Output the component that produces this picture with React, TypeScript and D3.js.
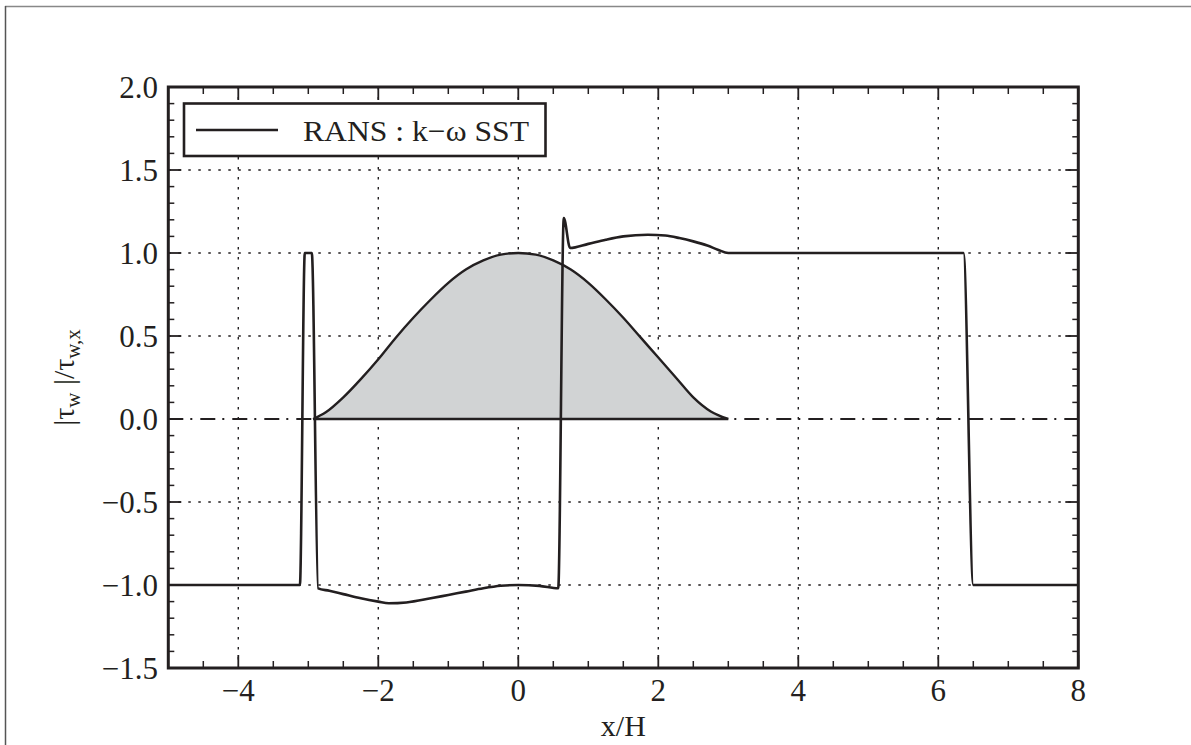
import React from "react";
import * as d3 from "d3";

const xMajor = [-4, -2, 0, 2, 4, 6, 8];
const xGrid = [-4, -2, 0, 2, 4, 6];
const yMajor = [-1.5, -1.0, -0.5, 0.0, 0.5, 1.0, 1.5, 2.0];
const yGrid = [-1.0, -0.5, 0.5, 1.0, 1.5];

const ransX = [-5, -3.12, -3.05, -2.95, -2.86, -2.7, -2.5, -2.25, -2.0, -1.85, -1.6, -1.25, -1.0, -0.75, -0.5, -0.25, 0.0, 0.3, 0.57, 0.65, 0.74, 1.0, 1.25, 1.5, 1.85, 2.1, 2.3, 2.5, 2.7, 2.85, 3.0, 6.36, 6.5, 8];
const ransY = [-1, -1, 1.0, 1.0, -1.02, -1.035, -1.055, -1.08, -1.10, -1.11, -1.105, -1.08, -1.06, -1.04, -1.02, -1.005, -1.0, -1.005, -1.02, 1.21, 1.03, 1.055, 1.08, 1.10, 1.11, 1.105, 1.09, 1.07, 1.045, 1.02, 1.0, 1.0, -1.0, -1.0];

const hillX = [-2.93, -2.75, -2.5, -2.25, -2.0, -1.75, -1.5, -1.25, -1.0, -0.75, -0.5, -0.25, 0, 0.25, 0.5, 0.75, 1.0, 1.25, 1.5, 1.75, 2.0, 2.25, 2.5, 2.75, 3.0];
const hillY = [0, 0.04, 0.13, 0.24, 0.36, 0.49, 0.61, 0.72, 0.82, 0.90, 0.955, 0.99, 1.0, 0.99, 0.955, 0.90, 0.82, 0.72, 0.61, 0.49, 0.37, 0.25, 0.13, 0.045, 0];

const legendLabel = "RANS : k\u2212\u03c9 SST";

const W = 1191, H = 745;
const L = 168.3, R = 1078.3, T = 87, B = 668;
const ink = "#231f20";

export default function App() {
  const x = d3.scaleLinear().domain([-5, 8]).range([L, R]);
  const y = d3.scaleLinear().domain([-1.5, 2.0]).range([B, T]);
  const fmt = (v: number, d: number) => (v < 0 ? "\u2212" : "") + Math.abs(v).toFixed(d);

  const ransPts: [number, number][] = ransX.map((v, i) => [v, ransY[i]]);
  const hillPts: [number, number][] = hillX.map((v, i) => [v, hillY[i]]);

  const line = d3.line<[number, number]>().x(d => x(d[0])).y(d => y(d[1])).curve(d3.curveMonotoneX);
  const area = d3.area<[number, number]>().x(d => x(d[0])).y0(y(0)).y1(d => y(d[1])).curve(d3.curveMonotoneX);

  const xMinor = d3.range(-5, 8.001, 0.5).filter(v => !xMajor.some(m => Math.abs(m - v) < 1e-6));
  const yMinor = d3.range(-1.5, 2.0001, 0.1).filter(v => !yMajor.some(m => Math.abs(m - v) < 1e-6));

  const font = "'Liberation Serif', 'Times New Roman', serif";

  return (
    <svg width={W} height={H} style={{ position: "absolute", left: 0, top: 0, background: "#fff" }}>
      {/* outer frame */}
      <line x1={5} y1={6.5} x2={W} y2={6.5} stroke="#888" strokeWidth={1.5} />
      <line x1={5.5} y1={6} x2={5.5} y2={H} stroke="#555" strokeWidth={1.5} />

      {/* grid */}
      {xGrid.map(v => (
        <line key={"gx" + v} x1={x(v)} x2={x(v)} y1={T} y2={B} stroke={ink} strokeWidth={1.4} strokeDasharray="2.5,7.5" />
      ))}
      {yGrid.map(v => (
        <line key={"gy" + v} x1={L} x2={R} y1={y(v)} y2={y(v)} stroke={ink} strokeWidth={1.4} strokeDasharray="2.5,7.5" />
      ))}

      {/* zero dash-dot */}
      <line x1={L} x2={R} y1={y(0)} y2={y(0)} stroke={ink} strokeWidth={2.2} strokeDasharray="15,7,2,8" />

      {/* hill */}
      <path d={area(hillPts) || ""} fill="#d1d3d4" stroke="none" />
      <path d={(line(hillPts) || "") + `L${x(hillX[0])},${y(0)}Z`} fill="none" stroke={ink} strokeWidth={2.4} />

      {/* RANS line */}
      <path d={line(ransPts) || ""} fill="none" stroke={ink} strokeWidth={2.6} strokeLinejoin="round" />

      {/* ticks */}
      {xMajor.map(v => (
        <g key={"xt" + v}>
          <line x1={x(v)} x2={x(v)} y1={B} y2={B - 13} stroke={ink} strokeWidth={1.8} />
          <line x1={x(v)} x2={x(v)} y1={T} y2={T + 13} stroke={ink} strokeWidth={1.8} />
        </g>
      ))}
      {xMinor.map(v => (
        <g key={"xm" + v}>
          <line x1={x(v)} x2={x(v)} y1={B} y2={B - 7} stroke={ink} strokeWidth={1.5} />
          <line x1={x(v)} x2={x(v)} y1={T} y2={T + 7} stroke={ink} strokeWidth={1.5} />
        </g>
      ))}
      {yMajor.map(v => (
        <g key={"yt" + v}>
          <line x1={L} x2={L + 13} y1={y(v)} y2={y(v)} stroke={ink} strokeWidth={1.8} />
          <line x1={R} x2={R - 13} y1={y(v)} y2={y(v)} stroke={ink} strokeWidth={1.8} />
        </g>
      ))}
      {yMinor.map(v => (
        <g key={"ym" + v}>
          <line x1={L} x2={L + 6} y1={y(v)} y2={y(v)} stroke={ink} strokeWidth={1.5} />
          <line x1={R} x2={R - 6} y1={y(v)} y2={y(v)} stroke={ink} strokeWidth={1.5} />
        </g>
      ))}

      {/* axes frame */}
      <rect x={L} y={T} width={R - L} height={B - T} fill="none" stroke={ink} strokeWidth={3} />

      {/* tick labels */}
      {xMajor.map(v => (
        <text key={"xl" + v} x={x(v)} y={701} textAnchor="middle" fontFamily={font} fontSize={31} fill={ink}>
          {fmt(v, 0)}
        </text>
      ))}
      {yMajor.map(v => (
        <text key={"yl" + v} x={158} y={y(v) + 10.5} textAnchor="end" fontFamily={font} fontSize={31} fill={ink}>
          {fmt(v, 1)}
        </text>
      ))}

      {/* axis labels */}
      <text x={(L + R) / 2} y={736} textAnchor="middle" fontFamily={font} fontSize={30} fill={ink}>x/H</text>
      <text transform={`translate(74,${(T + B) / 2}) rotate(-90)`} textAnchor="middle" fontFamily={font} fontSize={30} fill={ink}>
        <tspan>|τ</tspan>
        <tspan fontSize={21} dy={6}>w</tspan>
        <tspan dy={-6}> |/τ</tspan>
        <tspan fontSize={21} dy={6}>w,x</tspan>
      </text>

      {/* legend */}
      <rect x={184} y={103.5} width={361.5} height={52.5} fill="#fff" stroke={ink} strokeWidth={2.6} />
      <line x1={196} x2={278} y1={130} y2={130} stroke={ink} strokeWidth={2.6} />
      <text x={303} y={140.5} fontFamily={font} fontSize={30} fill={ink} textLength={226} lengthAdjust="spacingAndGlyphs">
        {legendLabel}
      </text>
    </svg>
  );
}
